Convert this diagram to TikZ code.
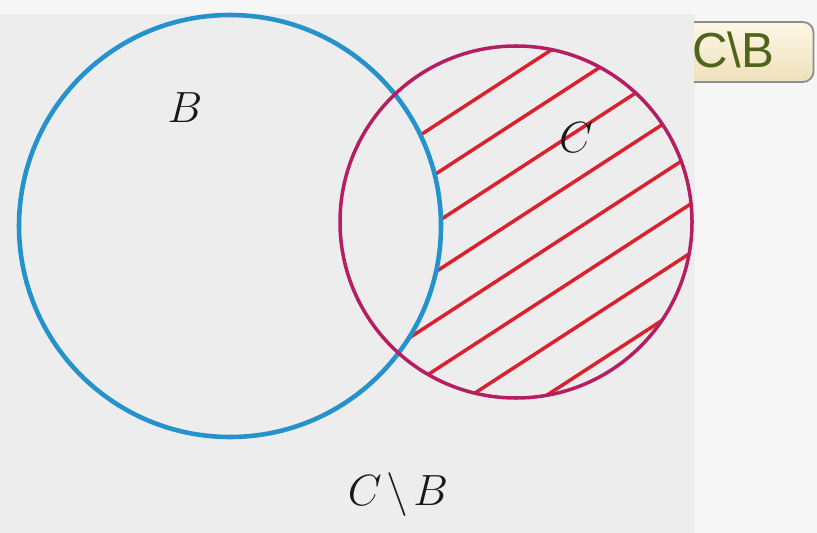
\documentclass[tikz,border=0pt]{standalone}
\usepackage{amsmath, amssymb}
\usepackage{fontspec}
\usepackage{tikz}
\usetikzlibrary{calc, positioning}
\usepackage{xcolor}
\newfontfamily\boutonfont{Liberation Sans}
\definecolor{bleuB}{RGB}{38, 146, 204}
\definecolor{roseC}{RGB}{182, 30, 98}
\definecolor{rougehach}{RGB}{218, 34, 46}
\definecolor{fondscan}{RGB}{237, 237, 237}
\definecolor{fondclair}{RGB}{246, 246, 246}
\definecolor{vertolive}{RGB}{80, 100, 28}
\definecolor{creme}{RGB}{250, 236, 196}

\begin{document}
\begin{tikzpicture}[
    x=0.02cm, y=-0.02cm,
    ensemble/.style={line width=2.6pt},
    hachure/.style={rougehach, line width=2pt},
    etiq/.style={font=\fontsize{26}{30}\selectfont, text=black!90},
    bouton/.style={draw=black!45, line width=1pt, rounded corners=6pt,
                   top color=creme!45, bottom color=creme!95!black,
                   minimum width=2.9cm, minimum height=1.2cm}
]
\useasboundingbox (0,0) rectangle (817,533);

% --- Fond de la page scannee ---
\fill[fondclair] (0,0) rectangle (817,533);
\fill[fondscan] (0,14) rectangle (695,533);

% --- Centres des deux ensembles ---
\coordinate (cB) at (230,226);
\coordinate (cC) at (516,222);

% ============================================================
%  HACHURES  (C \ B)
% ============================================================
\begin{scope}
    \clip (cC) circle (176);
    \foreach \k in {0,...,7}{
        \pgfmathsetmacro{\d}{-125+41*\k}
        \draw[hachure]
            ($(cC)+(\d*0.545-220*0.839, \d*0.839+220*0.545)$) --
            ($(cC)+(\d*0.545+220*0.839, \d*0.839-220*0.545)$);
    }
    % on efface la partie commune avec B
    \fill[fondscan] (cB) circle (211);
\end{scope}

% ============================================================
%  CERCLES B et C
% ============================================================
\draw[ensemble, bleuB] (cB) circle (211);
\draw[ensemble, roseC, line width=2pt] (cC) circle (176);

\node[etiq] (labB) at (185,108) {$B$};
\node[etiq] (labC) at (576,138) {$C$};
\node[etiq, anchor=base] (titre) at (398,505) {$C\mkern-2mu\setminus\mkern-2mu B$};

% ============================================================
%  BOUTON en haut a droite
% ============================================================
\begin{scope}
    \clip (694,0) rectangle (817,533);
    \node[bouton] (bouton) at (741,52) {};
\end{scope}
\node[font=\boutonfont\fontsize{28}{30}\selectfont, text=vertolive,
      anchor=west, inner sep=0pt] (btexte) at (692,50) {C\textbackslash B};

\end{tikzpicture}
\end{document}
